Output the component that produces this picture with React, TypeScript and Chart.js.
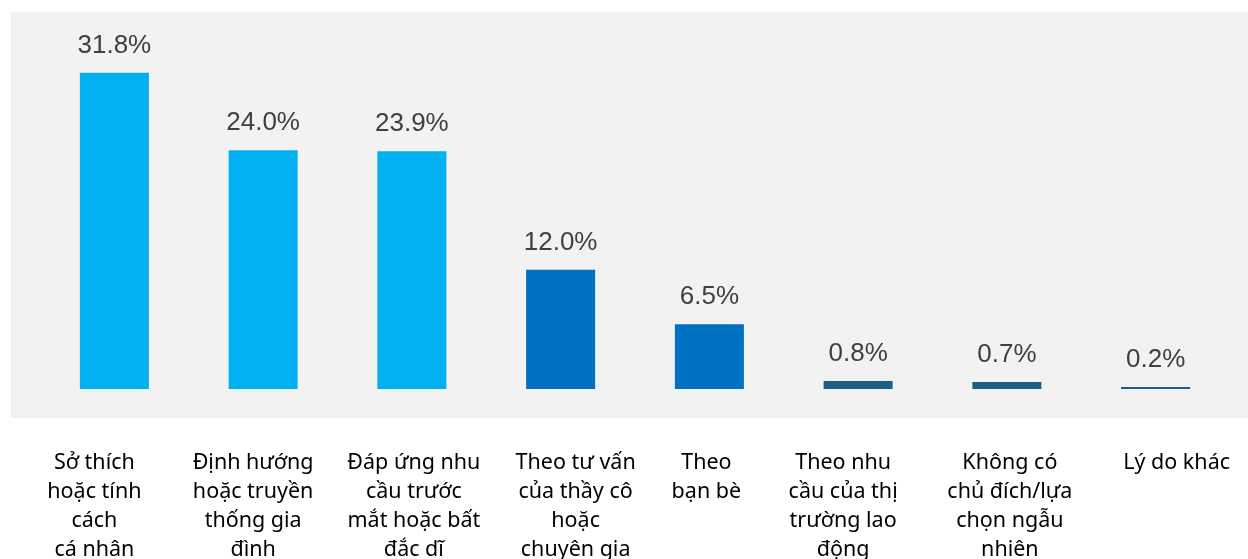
import React, { useEffect, useRef } from "react";
import { Chart, registerables } from "chart.js";

Chart.register(...registerables);

const categories: string[][] = [
  ["Sở thích", "hoặc tính", "cách", "cá nhân"],
  ["Định hướng", "hoặc truyền", "thống gia", "đình"],
  ["Đáp ứng nhu", "cầu trước", "mắt hoặc bất", "đắc dĩ"],
  ["Theo tư vấn", "của thầy cô", "hoặc", "chuyên gia"],
  ["Theo", "bạn bè"],
  ["Theo nhu", "cầu của thị", "trường lao", "động"],
  ["Không có", "chủ đích/lựa", "chọn ngẫu", "nhiên"],
  ["Lý do khác"],
];

const values: number[] = [31.8, 24.0, 23.9, 12.0, 6.5, 0.8, 0.7, 0.2];
const valueLabels: string[] = ["31.8%", "24.0%", "23.9%", "12.0%", "6.5%", "0.8%", "0.7%", "0.2%"];
const barColors: string[] = [
  "#00B0F0", "#00B0F0", "#00B0F0",
  "#0070C0", "#0070C0",
  "#1B6084", "#1B6084", "#1B6084",
];

// horizontal nudges of the category text boxes relative to their tick (style only)
const labelShift: number[] = [-20, -10, 2, 15, -3, -15, 3, 21];

const bgPlugin = {
  id: "bgPanel",
  beforeDraw(chart: any) {
    const ctx = chart.ctx;
    ctx.save();
    ctx.fillStyle = "#F2F2F2";
    ctx.fillRect(11, 12, chart.width - 11, 406);
    ctx.restore();
  },
};

const valueLabelPlugin = {
  id: "valueLabels",
  afterDatasetsDraw(chart: any) {
    const ctx = chart.ctx;
    const meta = chart.getDatasetMeta(0);
    ctx.save();
    ctx.font = "26px 'Liberation Sans', Arial, sans-serif";
    ctx.fillStyle = "#404040";
    ctx.textAlign = "center";
    ctx.textBaseline = "alphabetic";
    meta.data.forEach((bar: any, i: number) => {
      ctx.fillText(valueLabels[i], bar.x, bar.y - 20);
    });
    ctx.restore();
  },
};

const categoryLabelPlugin = {
  id: "categoryLabels",
  afterDraw(chart: any) {
    const ctx = chart.ctx;
    const xScale = chart.scales.x;
    const top = chart.chartArea.bottom + 74;
    ctx.save();
    ctx.font = "21.5px 'Noto Sans', sans-serif";
    ctx.fillStyle = "#000000";
    ctx.textAlign = "center";
    ctx.textBaseline = "middle";
    categories.forEach((lines, i) => {
      const x = xScale.getPixelForValue(i) + labelShift[i];
      lines.forEach((line, j) => {
        ctx.fillText(line, x, top + j * 29);
      });
    });
    ctx.restore();
  },
};

export default function App() {
  const canvasRef = useRef<HTMLCanvasElement | null>(null);

  useEffect(() => {
    if (!canvasRef.current) return;
    const chart = new Chart(canvasRef.current, {
      type: "bar",
      data: {
        labels: categories,
        datasets: [
          {
            data: values,
            backgroundColor: barColors,
            borderWidth: 0,
            categoryPercentage: 1,
            barPercentage: 0.464,
          },
        ],
      },
      options: {
        animation: false,
        responsive: true,
        maintainAspectRatio: false,
        layout: { padding: { left: 40, right: 18, top: 41, bottom: 0 } },
        plugins: {
          legend: { display: false },
          tooltip: { enabled: false },
        },
        scales: {
          x: {
            grid: { display: false, drawTicks: false },
            border: { display: false },
            ticks: { display: false },
            afterFit: (scale: any) => {
              scale.height = 170;
              scale.paddingLeft = 0;
              scale.paddingRight = 0;
            },
          },
          y: {
            display: false,
            min: 0,
            max: 35,
          },
        },
      },
      plugins: [bgPlugin, valueLabelPlugin, categoryLabelPlugin],
    });
    return () => chart.destroy();
  }, []);

  return (
    <div style={{ position: "fixed", left: 0, top: 0, width: 1248, height: 559, background: "#FFFFFF" }}>
      <canvas ref={canvasRef} />
    </div>
  );
}
